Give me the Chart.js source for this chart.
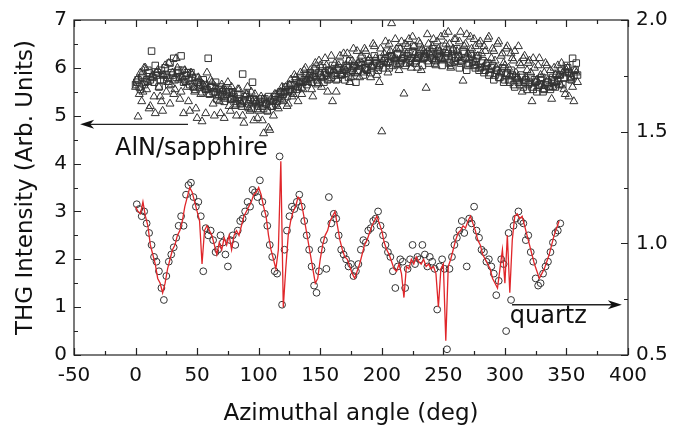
<!DOCTYPE html>
<html>
<head>
<meta charset="utf-8">
<script src="https://cdn.jsdelivr.net/npm/chart.js@4/dist/chart.umd.min.js"></script>
<style>
  body { margin: 0; background: #fff; }
</style>
</head>
<body>
<canvas id="thgChart" width="692" height="428"></canvas>
<script>
// AlN/sapphire, triangles at 0,2,4..358 deg
const sapphireTri = [
  5.6, 4.98, 5.9, 5.5, 6.0, 5.7, 5.2, 5.85, 5.05, 5.95,
  5.4, 5.1, 6.05, 5.7, 5.25, 5.9, 5.55, 6.0, 5.35, 5.8,
  5.95, 5.6, 5.1, 5.85, 5.5, 4.95, 5.75, 4.88, 5.6, 5.9,
  5.45, 5.7, 5.0, 5.55, 5.3, 5.65, 4.95, 5.5, 5.2, 5.6,
  5.35, 5.0, 5.55, 5.25, 4.85, 5.45, 5.15, 5.5, 4.9, 5.3,
  5.1, 5.4, 4.63, 5.25, 4.75, 5.35, 5.0, 5.45, 5.15, 5.5,
  5.3, 5.6, 5.25, 5.75, 5.45, 5.8, 5.3, 5.9, 5.55, 6.0,
  5.7, 5.95, 5.4, 6.1, 5.65, 6.05, 5.8, 6.2, 5.5, 5.95,
  5.3, 6.1, 5.75, 6.25, 5.85, 6.0, 6.3, 5.7, 6.15, 5.9,
  6.35, 5.8, 6.1, 6.4, 5.95, 6.2, 6.05, 6.45, 5.85, 5.7,
  4.67, 6.3, 6.1, 6.5, 6.93, 6.2, 6.4, 5.95, 6.55, 5.46,
  6.3, 6.6, 6.0, 6.45, 6.2, 6.55, 5.95, 6.35, 5.58, 6.5,
  6.25, 6.6, 6.05, 6.4, 6.65, 6.15, 6.5, 6.75, 6.0, 6.4,
  6.6, 6.2, 6.75, 5.73, 6.5, 6.3, 6.65, 6.1, 6.45, 6.25,
  6.55, 6.0, 6.35, 6.6, 5.95, 6.4, 6.15, 6.5, 5.9, 6.3,
  6.05, 6.45, 5.85, 6.2, 6.35, 5.8, 6.1, 5.5, 6.25, 5.95,
  6.15, 5.3, 6.0, 5.75, 6.2, 5.65, 5.9, 6.05, 5.6, 5.35,
  6.0, 5.7, 5.85, 6.1, 5.55, 5.95, 5.4, 5.8, 5.3, 5.9
];
// second triangle scan, 1,3..359 deg
const sapphireTri2 = [
  5.75, 5.45, 5.3, 6.0, 5.55, 5.15, 5.8, 5.4, 5.9, 5.6,
  5.3, 5.85, 5.5, 6.1, 5.65, 5.45, 6.2, 5.75, 5.5, 5.05,
  5.7, 5.3, 5.9, 5.6, 5.15, 5.8, 5.45, 5.65, 5.05, 5.55,
  5.75, 5.25, 5.6, 5.4, 5.05, 5.55, 5.35, 5.7, 5.1, 5.45,
  5.2, 5.55, 5.3, 5.0, 5.4, 5.6, 5.1, 5.3, 5.45, 4.95,
  5.25, 4.9, 5.35, 5.1, 4.7, 5.3, 5.45, 5.2, 5.35, 5.6,
  5.5, 5.2, 5.65, 5.4, 5.85, 5.6, 5.7, 5.45, 5.95, 5.75,
  5.85, 5.55, 6.0, 5.8, 6.15, 5.6, 5.9, 6.05, 5.75, 6.25,
  5.95, 5.5, 6.05, 5.85, 6.3, 5.95, 6.15, 5.8, 6.4, 6.05,
  6.1, 6.25, 5.9, 6.35, 6.15, 5.8, 6.5, 6.2, 6.0, 6.4,
  6.15, 6.55, 5.9, 6.35, 6.25, 6.6, 6.05, 6.4, 6.2, 6.5,
  6.45, 6.1, 6.65, 6.3, 6.0, 6.5, 6.4, 6.2, 6.7, 6.3,
  6.45, 6.15, 6.55, 6.35, 6.2, 6.7, 6.3, 6.5, 6.1, 6.6,
  6.35, 6.55, 6.15, 6.45, 6.7, 6.2, 6.4, 6.6, 6.05, 6.5,
  6.3, 6.45, 6.1, 6.65, 6.2, 6.35, 6.0, 6.55, 6.25, 6.1,
  6.4, 6.0, 6.3, 6.15, 5.9, 6.45, 6.05, 6.2, 5.8, 6.1,
  5.9, 6.2, 5.7, 6.05, 5.85, 5.55, 6.1, 5.75, 5.95, 5.6,
  5.85, 6.05, 5.65, 5.9, 5.45, 6.0, 5.75, 5.6, 5.95, 5.7
];
// AlN/sapphire, squares at 1,3,5..359 deg
const sapphireSq = [
  5.7, 5.6, 5.8, 5.65, 5.75, 5.9, 6.35, 5.7, 5.85, 5.6,
  5.95, 5.75, 5.85, 5.65, 5.9, 6.2, 5.8, 5.95, 6.25, 5.7,
  5.85, 5.75, 5.9, 5.6, 5.8, 5.7, 5.65, 5.75, 5.55, 6.2,
  5.6, 5.5, 5.7, 5.45, 5.6, 5.5, 5.4, 5.55, 5.35, 5.5,
  5.3, 5.45, 5.25, 5.87, 5.4, 5.2, 5.35, 5.7, 5.3, 5.15,
  5.3, 5.2, 5.35, 5.1, 5.3, 5.2, 5.4, 5.3, 5.45, 5.35,
  5.5, 5.4, 5.55, 5.5, 5.65, 5.55, 5.7, 5.6, 5.75, 5.65,
  5.8, 5.7, 5.85, 5.75, 5.9, 5.8, 5.7, 5.85, 5.95, 5.8,
  5.9, 5.75, 6.0, 5.85, 5.95, 6.05, 5.8, 5.9, 6.0, 5.7,
  5.95, 6.05, 5.85, 6.0, 6.1, 5.9, 6.05, 6.15, 5.95, 6.1,
  6.0, 6.2, 6.1, 6.25, 6.05, 6.15, 6.3, 6.1, 6.2, 6.05,
  6.25, 6.15, 6.35, 6.1, 6.2, 6.3, 6.05, 6.25, 6.15, 6.35,
  6.2, 6.1, 6.3, 6.25, 6.05, 6.2, 6.35, 6.1, 6.25, 6.15,
  6.4, 6.0, 6.15, 6.3, 5.95, 6.1, 6.25, 6.05, 6.2, 5.95,
  6.1, 5.9, 6.05, 5.85, 6.0, 5.75, 5.95, 5.8, 5.9, 5.7,
  5.85, 5.75, 5.95, 5.65, 5.8, 5.7, 5.85, 5.6, 5.75, 5.65,
  5.8, 5.55, 5.7, 5.6, 5.75, 5.5, 5.65, 5.7, 5.55, 5.8,
  5.6, 5.75, 5.85, 5.65, 5.9, 6.0, 5.8, 6.2, 5.95, 5.85
];
// second square scan, 0,2..358 deg
const sapphireSq2 = [
  5.65, 5.75, 5.55, 5.85, 5.7, 5.95, 5.75, 5.8, 6.05, 5.9,
  5.75, 5.85, 6.0, 5.8, 6.1, 5.85, 5.75, 5.9, 5.8, 5.95,
  5.75, 5.9, 5.65, 5.8, 5.55, 5.7, 5.6, 5.5, 5.65, 5.55,
  5.45, 5.6, 5.5, 5.35, 5.55, 5.4, 5.3, 5.45, 5.5, 5.35,
  5.4, 5.25, 5.35, 5.2, 5.3, 5.45, 5.25, 5.15, 5.35, 5.25,
  5.2, 5.35, 5.15, 5.25, 5.4, 5.2, 5.3, 5.25, 5.4, 5.5,
  5.45, 5.6, 5.5, 5.65, 5.55, 5.75, 5.6, 5.8, 5.7, 5.85,
  5.75, 5.9, 5.8, 5.95, 5.7, 5.85, 6.0, 5.9, 5.75, 5.95,
  6.05, 5.85, 5.95, 6.1, 5.9, 5.75, 6.0, 6.15, 5.95, 6.05,
  5.9, 6.1, 6.2, 6.0, 5.95, 6.15, 6.0, 6.25, 6.1, 6.05,
  6.2, 6.15, 6.35, 6.0, 6.25, 6.2, 6.1, 6.4, 6.15, 6.25,
  6.1, 6.3, 6.2, 6.45, 6.15, 6.25, 6.35, 6.2, 6.3, 6.1,
  6.3, 6.4, 6.15, 6.35, 6.2, 6.45, 6.25, 6.3, 6.05, 6.35,
  6.2, 6.25, 6.1, 6.35, 6.2, 6.05, 6.3, 6.15, 6.0, 6.25,
  6.0, 6.15, 5.95, 6.1, 5.9, 6.05, 5.85, 5.95, 5.8, 6.0,
  5.75, 5.9, 5.7, 5.85, 5.6, 5.75, 5.65, 5.8, 5.7, 5.55,
  5.7, 5.6, 5.75, 5.5, 5.65, 5.8, 5.55, 5.7, 5.6, 5.75,
  5.7, 5.85, 5.65, 5.95, 5.8, 6.05, 5.9, 5.75, 5.85, 6.1
];
// quartz, red line at 0,2..344 deg
const quartzLine = [
  3.1, 3.0, 2.95, 3.2, 2.9, 2.7, 2.3, 2.1, 1.9, 1.6,
  1.5, 1.3, 1.5, 1.8, 2.0, 2.2, 2.3, 2.5, 2.6, 2.8,
  3.1, 3.3, 3.5, 3.4, 3.2, 3.0, 2.8, 1.9, 2.6, 2.7,
  2.6, 2.5, 2.3, 2.1, 2.35, 2.2, 2.45, 2.3, 2.5, 2.2,
  2.5, 2.6, 2.5, 2.7, 2.9, 3.0, 3.1, 3.2, 3.35, 3.4,
  3.5, 3.35, 3.1, 2.9, 2.5, 2.2, 2.0, 1.8, 2.2, 4.05,
  1.0, 1.8, 2.5, 2.8, 3.0, 3.1, 3.3, 3.25, 3.0, 2.7,
  2.4, 2.1, 1.8, 1.5, 1.6, 2.0, 2.3, 2.5, 2.6, 2.8,
  2.9, 3.0, 2.7, 2.4, 2.2, 2.05, 2.0, 1.85, 1.7, 1.6,
  1.75, 1.9, 2.1, 2.3, 2.4, 2.55, 2.7, 2.8, 2.9, 2.75,
  2.6, 2.35, 2.2, 2.1, 1.95, 1.8, 1.75, 1.9, 1.7, 1.2,
  1.85, 1.8, 2.0, 1.9, 2.05, 1.95, 1.9, 2.0, 1.85, 1.9,
  1.8, 1.85, 1.7, 1.0, 1.8, 1.9, 0.3, 1.85, 2.0, 2.2,
  2.4, 2.55, 2.6, 2.7, 2.65, 2.8, 2.9, 2.75, 2.6, 2.4,
  2.3, 2.1, 2.0, 1.9, 1.8, 1.6, 1.5, 1.4, 1.8, 2.2,
  1.5, 2.5, 1.3, 2.4, 2.9, 2.95, 2.85, 2.9, 2.7, 2.5,
  2.3, 2.1, 1.9, 1.75, 1.6, 1.7, 1.8, 1.95, 2.1, 2.3,
  2.5, 2.65, 2.8
];
// quartz, circles at 1,3..345 deg
const quartzDots = [
  3.15, 3.05, 2.9, 3.0, 2.75, 2.55, 2.3, 2.05, 1.95, 1.75,
  1.4, 1.15, 1.65, 1.95, 2.1, 2.25, 2.45, 2.7, 2.9, 2.7,
  3.35, 3.55, 3.6, 3.3, 3.1, 3.2, 2.9, 1.75, 2.65, 2.5,
  2.6, 2.4, 2.15, 2.2, 2.5, 2.35, 2.1, 1.85, 2.4, 2.5,
  2.3, 2.6, 2.8, 2.85, 3.0, 3.2, 3.1, 3.45, 3.4, 3.3,
  3.65, 3.2, 2.95, 2.7, 2.3, 2.05, 1.75, 1.7, 4.15, 1.05,
  2.2, 2.6, 2.9, 3.1, 3.05, 3.2, 3.35, 3.1, 2.8, 2.5,
  2.2, 1.85, 1.45, 1.3, 1.75, 2.2, 2.4, 1.8, 3.3, 2.75,
  2.95, 2.85, 2.5, 2.2, 2.1, 2.0, 1.85, 1.9, 1.65, 1.75,
  1.9, 2.2, 2.4, 2.35, 2.6, 2.65, 2.8, 2.85, 3.0, 2.7,
  2.5, 2.3, 2.15, 2.05, 1.75, 1.4, 1.85, 2.0, 1.95, 1.4,
  1.8, 2.0, 2.3, 1.9, 2.05, 2.0, 2.3, 2.1, 1.85, 2.05,
  1.95, 1.8, 0.95, 1.85, 2.0, 1.8, 0.12, 1.8, 2.05, 2.3,
  2.45, 2.6, 2.8, 2.55, 1.85, 2.85, 2.75, 3.1, 2.6, 2.45,
  2.2, 2.15, 1.95, 2.0, 1.85, 1.7, 1.25, 1.55, 2.0, 1.9,
  0.5, 2.55, 1.15, 2.7, 2.85, 3.0, 2.8, 2.75, 2.4, 2.5,
  2.15, 1.95, 1.6, 1.45, 1.5, 1.7, 1.85, 1.95, 2.15, 2.35,
  2.55, 2.6, 2.75
];
const xTicks = [-50, 0, 50, 100, 150, 200, 250, 300, 350, 400];
const leftTicks = [0, 1, 2, 3, 4, 5, 6, 7];
const rightTicks = [0.5, 1.0, 1.5, 2.0];

const FONT = "'DejaVu Sans', sans-serif";

// each scan is sampled every 2 deg, starting at 0 or 1 deg
const pts = (vals, start) => vals.map((v, i) => ({ x: start + i * 2, y: v }));

// frame with inward ticks on all four sides, plus the two arrows
const framePlugin = {
  id: "frame",
  afterDraw(chart) {
    const { ctx, chartArea: a } = chart;
    const { x, y, y2 } = chart.scales;
    ctx.save();
    ctx.strokeStyle = "#222";
    ctx.lineWidth = 1.2;
    ctx.strokeRect(a.left, a.top, a.right - a.left, a.bottom - a.top);
    ctx.beginPath();
    for (let v = -50; v <= 400; v += 25) {
      const px = Math.round(x.getPixelForValue(v)) + 0.5;
      const len = v % 50 === 0 ? 7 : 4;
      ctx.moveTo(px, a.bottom); ctx.lineTo(px, a.bottom - len);
      ctx.moveTo(px, a.top); ctx.lineTo(px, a.top + len);
    }
    for (let v = 0; v <= 7; v += 0.5) {
      const py = Math.round(y.getPixelForValue(v)) + 0.5;
      const len = v % 1 === 0 ? 7 : 4;
      ctx.moveTo(a.left, py); ctx.lineTo(a.left + len, py);
    }
    for (let v = 0.5; v <= 2.0001; v += 0.25) {
      const py = Math.round(y2.getPixelForValue(v)) + 0.5;
      const len = Math.abs(v * 2 - Math.round(v * 2)) < 0.01 ? 7 : 4;
      ctx.moveTo(a.right, py); ctx.lineTo(a.right - len, py);
    }
    ctx.stroke();

    const arrow = (x0, x1, yv) => {
      const px0 = x.getPixelForValue(x0), px1 = x.getPixelForValue(x1);
      const py = y.getPixelForValue(yv);
      const dir = Math.sign(px1 - px0);
      ctx.beginPath();
      ctx.lineWidth = 1.3;
      ctx.moveTo(px0, py); ctx.lineTo(px1 - dir * 8, py);
      ctx.stroke();
      ctx.beginPath();
      ctx.fillStyle = "#111";
      ctx.moveTo(px1, py);
      ctx.lineTo(px1 - dir * 14, py - 4.5);
      ctx.lineTo(px1 - dir * 10, py);
      ctx.lineTo(px1 - dir * 14, py + 4.5);
      ctx.closePath();
      ctx.fill();
    };
    arrow(42.6, -45, 4.82);
    arrow(305.8, 395, 1.05);

    ctx.fillStyle = "#111";
    ctx.font = "24px " + FONT;
    ctx.textBaseline = "alphabetic";
    ctx.textAlign = "left";
    ctx.fillText("AlN/sapphire", x.getPixelForValue(-16.7), y.getPixelForValue(4.18));
    ctx.fillText("quartz", x.getPixelForValue(304), y.getPixelForValue(0.66));
    ctx.restore();
  }
};

const hollow = "rgba(255,255,255,0)";
const markerSet = (label, data, style, r, order) => ({
  label, data, order,
  pointStyle: style,
  pointRadius: r,
  borderColor: "#333",
  borderWidth: 1,
  backgroundColor: hollow,
});

new Chart(document.getElementById("thgChart"), {
  type: "scatter",
  data: {
    datasets: [
      {
        label: "quartz fit",
        type: "line",
        data: pts(quartzLine, 0),
        borderColor: "#e0262a",
        borderWidth: 1.3,
        pointRadius: 0,
        tension: 0,
        order: 0,
      },
      markerSet("quartz", pts(quartzDots, 1), "circle", 3.4, 1),
      markerSet("AlN/sapphire sq", pts(sapphireSq, 1), "rect", 4.6, 2),
      markerSet("AlN/sapphire sq 2", pts(sapphireSq2, 0), "rect", 4.6, 3),
      markerSet("AlN/sapphire tri", pts(sapphireTri, 0), "triangle", 4.6, 4),
      markerSet("AlN/sapphire tri 2", pts(sapphireTri2, 1), "triangle", 4.6, 5),
    ],
  },
  options: {
    responsive: false,
    animation: false,
    layout: { padding: { top: 15, left: 0, right: 0, bottom: 0 } },
    plugins: { legend: { display: false }, tooltip: { enabled: false } },
    scales: {
      x: {
        type: "linear",
        min: -50,
        max: 400,
        afterBuildTicks: (s) => { s.ticks = xTicks.map((v) => ({ value: v })); },
        afterFit: (s) => { s.height = 73; },
        grid: { display: false, drawTicks: false },
        border: { display: false },
        ticks: { color: "#111", font: { family: FONT, size: 20 }, padding: 9, maxRotation: 0 },
        title: {
          display: true,
          text: "Azimuthal angle (deg)",
          color: "#111",
          font: { family: FONT, size: 23 },
          padding: { top: 3, bottom: 0 },
        },
      },
      y: {
        position: "left",
        min: 0,
        max: 7,
        afterBuildTicks: (s) => { s.ticks = leftTicks.map((v) => ({ value: v })); },
        afterFit: (s) => { s.width = 74; },
        grid: { display: false, drawTicks: false },
        border: { display: false },
        ticks: { color: "#111", font: { family: FONT, size: 20 }, padding: 7 },
        title: {
          display: true,
          text: "THG Intensity (Arb. Units)",
          color: "#111",
          font: { family: FONT, size: 23 },
          padding: { top: 12, bottom: 0 },
        },
      },
      y2: {
        position: "right",
        min: 0.5,
        max: 2.0,
        afterBuildTicks: (s) => { s.ticks = rightTicks.map((v) => ({ value: v })); },
        afterFit: (s) => { s.width = 64; },
        grid: { display: false, drawTicks: false },
        border: { display: false },
        ticks: {
          color: "#111",
          font: { family: FONT, size: 20 },
          padding: 8,
          callback: (v) => Number(v).toFixed(1),
        },
      },
    },
  },
  plugins: [framePlugin],
});
</script>
</body>
</html>
